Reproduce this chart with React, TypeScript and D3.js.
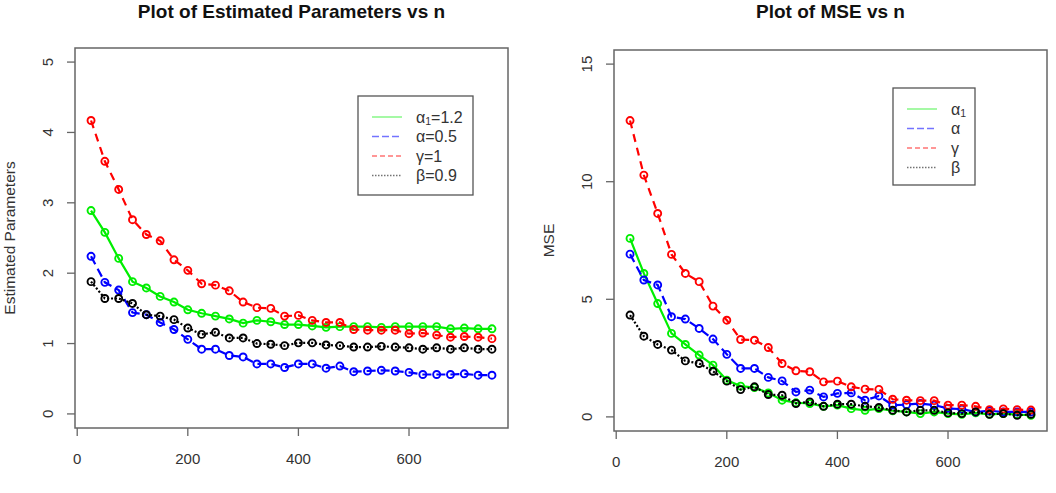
import React from 'react';
import * as d3 from 'd3';

// sample sizes
const N = [25, 50, 75, 100, 125, 150, 175, 200, 225, 250, 275, 300, 325, 350, 375, 400, 425, 450, 475, 500, 525, 550, 575, 600, 625, 650, 675, 700, 725, 750];

// estimated parameters
const estAlpha1 = [2.89, 2.58, 2.21, 1.88, 1.79, 1.67, 1.59, 1.48, 1.43, 1.39, 1.35, 1.29, 1.33, 1.31, 1.27, 1.27, 1.25, 1.23, 1.24, 1.24, 1.24, 1.23, 1.24, 1.24, 1.24, 1.24, 1.21, 1.22, 1.21, 1.21];
const estAlpha = [2.24, 1.87, 1.76, 1.44, 1.41, 1.3, 1.2, 1.06, 0.92, 0.92, 0.83, 0.81, 0.71, 0.71, 0.66, 0.71, 0.71, 0.65, 0.68, 0.6, 0.61, 0.62, 0.61, 0.59, 0.56, 0.56, 0.56, 0.57, 0.55, 0.55];
const estGamma = [4.17, 3.59, 3.19, 2.76, 2.55, 2.46, 2.19, 2.04, 1.85, 1.83, 1.75, 1.59, 1.51, 1.5, 1.39, 1.4, 1.33, 1.3, 1.3, 1.2, 1.19, 1.19, 1.19, 1.14, 1.15, 1.12, 1.09, 1.1, 1.09, 1.07];
const estBeta = [1.88, 1.64, 1.64, 1.57, 1.41, 1.39, 1.34, 1.22, 1.13, 1.16, 1.08, 1.08, 1.0, 0.99, 0.97, 1.01, 1.01, 0.98, 0.97, 0.95, 0.95, 0.96, 0.95, 0.94, 0.92, 0.94, 0.92, 0.94, 0.92, 0.92];

// mean squared errors
const mseAlpha1 = [7.59, 6.1, 4.82, 3.55, 3.08, 2.63, 2.2, 1.56, 1.31, 1.25, 1.02, 0.71, 0.6, 0.57, 0.45, 0.5, 0.35, 0.28, 0.35, 0.26, 0.21, 0.14, 0.21, 0.14, 0.11, 0.17, 0.11, 0.14, 0.1, 0.07];
const mseAlpha = [6.92, 5.82, 5.61, 4.26, 4.16, 3.76, 3.31, 2.66, 2.06, 2.06, 1.68, 1.53, 1.06, 1.14, 0.85, 1.0, 1.02, 0.71, 0.89, 0.5, 0.52, 0.57, 0.5, 0.36, 0.33, 0.21, 0.26, 0.21, 0.21, 0.21];
const mseGamma = [12.6, 10.28, 8.65, 6.91, 6.1, 5.75, 4.71, 4.11, 3.29, 3.26, 2.95, 2.27, 1.96, 1.92, 1.49, 1.52, 1.28, 1.18, 1.17, 0.75, 0.71, 0.69, 0.69, 0.5, 0.5, 0.45, 0.31, 0.34, 0.31, 0.29];
const mseBeta = [4.33, 3.43, 3.08, 2.84, 2.38, 2.27, 1.94, 1.52, 1.16, 1.28, 0.95, 0.92, 0.57, 0.64, 0.45, 0.54, 0.54, 0.45, 0.4, 0.28, 0.21, 0.28, 0.28, 0.17, 0.14, 0.21, 0.11, 0.14, 0.07, 0.11];

const xTicks = [0, 200, 400, 600];
const estTicks = [0, 1, 2, 3, 4, 5];
const mseTicks = [0, 5, 10, 15];

const COLORS = ['#00ee00', '#0000ff', '#ff0000', '#000000'];
const DASHES = ['none', '9,5', '8,6', '2,2'];
const LEGEND_DASHES = ['none', '7,3', '5,3', '1.5,1.5'];

const estLabels = ['α₁=1.2', 'α=0.5', 'γ=1', 'β=0.9'];
const mseLabels = ['α₁', 'α', 'γ', 'β'];

type Box = { x0: number; x1: number; y0: number; y1: number };
type LegendPos = { x: number; y: number; w: number; h: number };

const FONT = 'Liberation Sans, Arial, sans-serif';

function Legend({ pos, labels }: { pos: LegendPos; labels: string[] }) {
  return (
    <g>
      <rect x={pos.x} y={pos.y} width={pos.w} height={pos.h} fill="white" stroke="#555" strokeWidth={1.3} />
      {labels.map((lab, i) => {
        const y = pos.y + 21 + i * 19.5;
        const parts = lab.split('₁');
        return (
          <g key={lab}>
            <line x1={pos.x + 14} x2={pos.x + 44} y1={y} y2={y} stroke={COLORS[i]} strokeOpacity={0.55}
              strokeWidth={1.3} strokeDasharray={LEGEND_DASHES[i]} />
            <text x={pos.x + 58} y={y + 5.5} fontSize={16} fill="#333" fontFamily={FONT}>
              {parts.length > 1 ? (
                <>
                  {parts[0]}
                  <tspan fontSize={10.5} dy={2.5}>1</tspan>
                  <tspan dy={-2.5}>{parts[1]}</tspan>
                </>
              ) : lab}
            </text>
          </g>
        );
      })}
    </g>
  );
}

function Panel({ box, yDomain, yTicks, series, title, yLabel, legendPos, labels }: {
  box: Box; yDomain: [number, number]; yTicks: number[]; series: number[][];
  title: string; yLabel: string; legendPos: LegendPos; labels: string[];
}) {
  const x = d3.scaleLinear().domain([-4, 779]).range([box.x0, box.x1]);
  const y = d3.scaleLinear().domain(yDomain).range([box.y1, box.y0]);
  const line = d3.line<number>().x((_, i) => x(N[i])).y((d) => y(d));
  const cx = (box.x0 + box.x1) / 2;
  const cy = (box.y0 + box.y1) / 2;

  return (
    <g>
      <text x={cx} y={18} textAnchor="middle" fontSize={19} fontWeight="bold" fill="#111" fontFamily={FONT}>{title}</text>
      {series.map((s, i) => (
        <g key={i}>
          <path d={line(s) || ''} fill="none" stroke={COLORS[i]} strokeWidth={2.2} strokeDasharray={DASHES[i]} />
          {s.map((v, j) => (
            <circle key={j} cx={x(N[j])} cy={y(v)} r={3.5} fill="none" stroke={COLORS[i]} strokeWidth={1.9} />
          ))}
        </g>
      ))}
      <rect x={box.x0} y={box.y0} width={box.x1 - box.x0} height={box.y1 - box.y0} fill="none" stroke="#666" strokeWidth={1.5} />
      {xTicks.map((t) => (
        <g key={t}>
          <line x1={x(t)} x2={x(t)} y1={box.y1} y2={box.y1 + 8} stroke="#666" strokeWidth={1.3} />
          <text x={x(t)} y={box.y1 + 35.5} textAnchor="middle" fontSize={15} fill="#333" fontFamily={FONT}>{t}</text>
        </g>
      ))}
      {yTicks.map((t) => (
        <g key={t}>
          <line x1={box.x0 - 8} x2={box.x0} y1={y(t)} y2={y(t)} stroke="#666" strokeWidth={1.3} />
          <text transform={`translate(${box.x0 - 22.5},${y(t)}) rotate(-90)`} textAnchor="middle" fontSize={15} fill="#333" fontFamily={FONT}>{t}</text>
        </g>
      ))}
      <text transform={`translate(${box.x0 - 60},${cy}) rotate(-90)`} textAnchor="middle" fontSize={15.5} fill="#333" fontFamily={FONT}>{yLabel}</text>
      <Legend pos={legendPos} labels={labels} />
    </g>
  );
}

export default function App() {
  return (
    <svg width={1056} height={493} style={{ position: 'absolute', left: 0, top: 0, background: 'white' }}>
      <Panel
        box={{ x0: 75, x1: 508, y0: 48, y1: 428 }}
        yDomain={[-0.2, 5.2]}
        yTicks={estTicks}
        series={[estAlpha1, estAlpha, estGamma, estBeta]}
        title="Plot of Estimated Parameters vs n"
        yLabel="Estimated Parameters"
        legendPos={{ x: 358, y: 96, w: 115, h: 99 }}
        labels={estLabels}
      />
      <Panel
        box={{ x0: 614, x1: 1047, y0: 50, y1: 431 }}
        yDomain={[-0.6, 15.6]}
        yTicks={mseTicks}
        series={[mseAlpha1, mseAlpha, mseGamma, mseBeta]}
        title="Plot of MSE vs n"
        yLabel="MSE"
        legendPos={{ x: 893, y: 88, w: 82, h: 97 }}
        labels={mseLabels}
      />
    </svg>
  );
}
